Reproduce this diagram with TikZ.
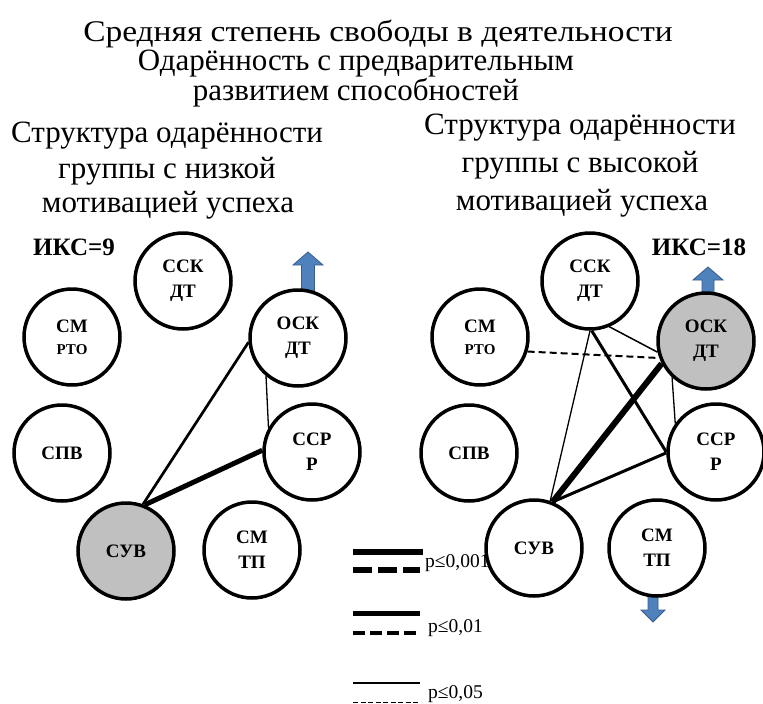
\documentclass[tikz,border=0pt]{standalone}
\usepackage{fontspec}
\setmainfont{Liberation Serif}
\definecolor{nodegray}{HTML}{C0C0C0}
\definecolor{arrowblue}{HTML}{4F81BD}
\definecolor{arrowedge}{HTML}{385D8A}
\begin{document}
\begin{tikzpicture}[x=1pt,y=-1pt,
  circ/.style={circle, draw=black, line width=3.5pt, fill=white, minimum size=96pt, inner sep=0pt,
    font=\bfseries\fontsize{19}{25}\selectfont, align=center},
  gcirc/.style={circ, fill=nodegray},
  txt/.style={anchor=base, inner sep=0pt, font=\fontsize{31}{36}\selectfont},
  iks/.style={anchor=base, inner sep=0pt, font=\bfseries\fontsize{25}{30}\selectfont},
  leg/.style={anchor=base west, inner sep=0pt, font=\fontsize{19.5}{24}\selectfont},
  upar/.style={fill=arrowblue, draw=arrowedge, line width=0.8pt}
]
\useasboundingbox (0,0) rectangle (763,704);

% titles
\node[txt, font=\fontsize{30}{36}\selectfont] (t1) at (378,41) {\scalebox{1.115}[1]{Средняя степень свободы в деятельности}};
\node[txt] (t2) at (356,70) {Одарённость с предварительным};
\node[txt] (t3) at (356,100) {развитием способностей};
\node[txt] (hl1) at (167,142) {Структура одарённости};
\node[txt] (hl2) at (167,178) {группы с низкой};
\node[txt] (hl3) at (168,212) {мотивацией успеха};
\node[txt] (hr1) at (580,134) {Структура одарённости};
\node[txt] (hr2) at (580,172) {группы с высокой};
\node[txt] (hr3) at (582,210) {мотивацией успеха};
\node[iks] (iks1) at (74,255) {ИКС=9};
\node[iks] (iks2) at (699,255) {ИКС=18};

% block arrows
\filldraw[upar] (301.5,293) -- (301.5,265) -- (293,265) -- (308,252) -- (323,265) -- (314.5,265) -- (314.5,293) -- cycle;
\filldraw[upar] (702,294) -- (702,280) -- (693,280) -- (708,267) -- (723,280) -- (714,280) -- (714,294) -- cycle;
\filldraw[upar] (648,594) -- (658,594) -- (658,610) -- (665,610) -- (653,622) -- (641,610) -- (648,610) -- cycle;

% left diagram
\node[circ] (lssk) at (183,281) {ССК\\ДТ};
\node[circ] (lsm) at (72,337) {СМ\\[-3pt]{\fontsize{15}{18}\selectfont РТО}};
\node[circ] (losk) at (298,338) {ОСК\\ДТ};
\node[circ] (lspv) at (62,453) {СПВ};
\node[circ] (lssr) at (312,452) {ССР\\Р};
\node[gcirc] (lsuv) at (126,551) {СУВ};
\node[circ] (lsmtp) at (252,550) {СМ\\ТП};

\draw[line width=2.7pt] (lsuv.70) -- (losk.185);
\draw[line width=5pt] (lsuv.68) -- (lssr.178);
\draw[line width=1.3pt] (losk.230) -- (lssr.151);

% right diagram
\node[circ] (rssk) at (590,281) {ССК\\ДТ};
\node[circ] (rsm) at (480,337) {СМ\\[-3pt]{\fontsize{15}{18}\selectfont РТО}};
\node[gcirc] (rosk) at (706,341) {ОСК\\ДТ};
\node[circ] (rspv) at (469,453) {СПВ};
\node[circ] (rssr) at (716,452) {ССР\\Р};
\node[circ] (rsuv) at (534,548) {СУВ};
\node[circ] (rsmtp) at (657,548) {СМ\\ТП};

\draw[line width=2pt, dash pattern=on 7pt off 4pt] (rsm.343) -- (rosk.200);
\draw[line width=1.5pt] (rssk.293) -- (rosk.193);
\draw[line width=1.3pt] (rssk.270) -- (rsuv.71);
\draw[line width=3pt] (rssk.272) -- (rssr.180);
\draw[line width=6pt] (rosk.207) -- (rsuv.68);
\draw[line width=1.3pt] (rosk.227) -- (rssr.145);
\draw[line width=3pt] (rsuv.68) -- (rssr.181);

% legend
\coordinate (a1) at (353,552); \coordinate (b1) at (423,552);
\coordinate (a2) at (353,570); \coordinate (b2) at (420,570);
\coordinate (a3) at (353,613); \coordinate (b3) at (420,613);
\coordinate (a4) at (353,633); \coordinate (b4) at (420,633);
\coordinate (a5) at (353,683); \coordinate (b5) at (420,683);
\coordinate (a6) at (353,702); \coordinate (b6) at (420,702);
\draw[line width=6pt] (a1) -- (b1);
\draw[line width=6pt, dash pattern=on 19pt off 6pt] (a2) -- (b2);
\draw[line width=5pt] (a3) -- (b3);
\draw[line width=3.5pt, dash pattern=on 12pt off 5pt] (a4) -- (b4);
\draw[line width=1.5pt] (a5) -- (b5);
\draw[line width=1pt, dash pattern=on 5pt off 2.5pt] (a6) -- (b6);
\node[leg] (p1) at (425,567) {p≤0,001};
\node[leg] (p2) at (428,632) {p≤0,01};
\node[leg] (p3) at (428,698) {p≤0,05};
\end{tikzpicture}
\end{document}
